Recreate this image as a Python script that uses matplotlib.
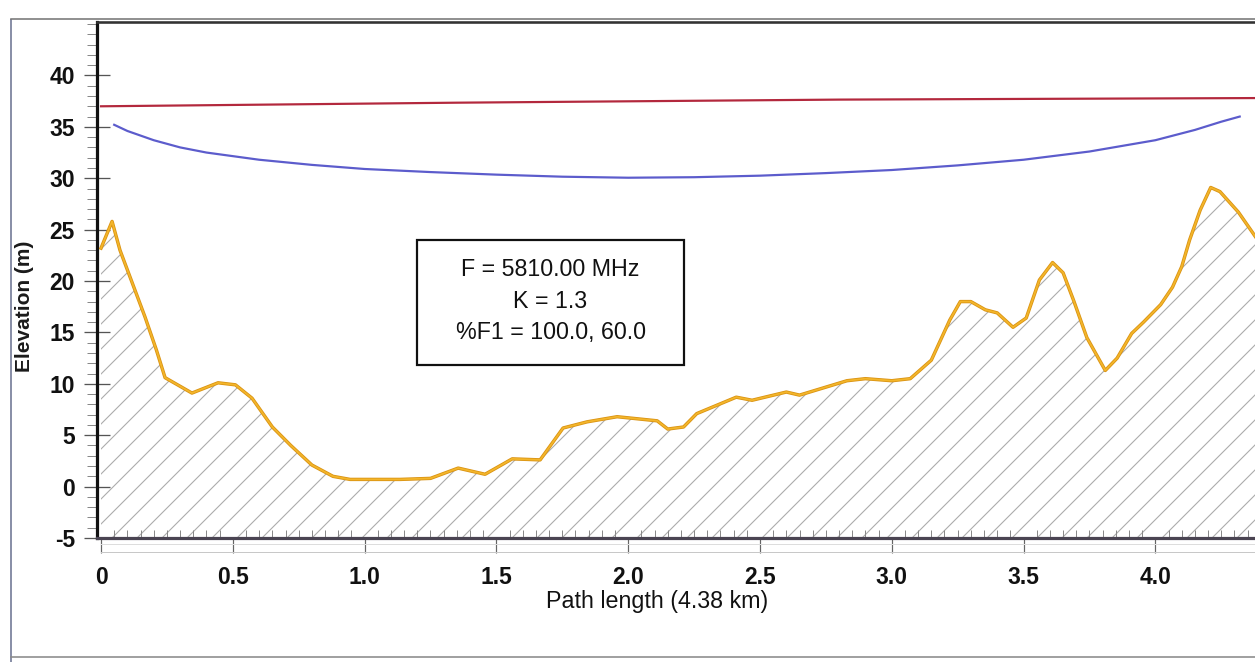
import matplotlib
matplotlib.use("Agg")
import matplotlib.pyplot as plt
from matplotlib.lines import Line2D
from matplotlib.patches import Rectangle
from matplotlib.ticker import MultipleLocator, FixedLocator

# ---------------- data ----------------
terrain_km = [0.00, 0.042, 0.072, 0.11, 0.167, 0.21, 0.243, 0.345, 0.444, 0.51,
              0.573, 0.65, 0.72, 0.80, 0.88, 0.945, 1.135, 1.25, 1.355, 1.457,
              1.56, 1.666, 1.753, 1.844, 1.958, 2.11, 2.15, 2.21, 2.26, 2.41,
              2.47, 2.60, 2.65, 2.83, 2.90, 3.00, 3.07, 3.15, 3.22, 3.26,
              3.30, 3.355, 3.40, 3.46, 3.51, 3.56, 3.61, 3.65, 3.69, 3.74,
              3.81, 3.855, 3.91, 3.955, 4.02, 4.065, 4.10, 4.13, 4.17, 4.21,
              4.245, 4.315, 4.38]
terrain_m = [23.2, 25.8, 23.0, 20.4, 16.5, 13.3, 10.6, 9.1, 10.1, 9.9,
             8.6, 5.8, 4.0, 2.1, 1.0, 0.7, 0.7, 0.8, 1.8, 1.2,
             2.7, 2.6, 5.7, 6.3, 6.8, 6.4, 5.6, 5.8, 7.1, 8.7,
             8.4, 9.2, 8.9, 10.3, 10.5, 10.3, 10.5, 12.3, 16.2, 18.0,
             18.0, 17.2, 16.9, 15.5, 16.4, 20.1, 21.8, 20.8, 18.1, 14.5,
             11.3, 12.5, 14.9, 16.0, 17.7, 19.4, 21.4, 24.0, 26.9, 29.1,
             28.7, 26.7, 24.3]

los_km = [0.0, 1.35, 2.8, 4.38]
los_m = [37.0, 37.35, 37.65, 37.8]

fresnel_km = [0.05, 0.1, 0.2, 0.3, 0.4, 0.6, 0.8, 1.0, 1.25, 1.5, 1.75, 2.0,
              2.25, 2.5, 2.75, 3.0, 3.25, 3.5, 3.75, 4.0, 4.15, 4.25, 4.32]
fresnel_m = [35.2, 34.6, 33.7, 33.0, 32.5, 31.8, 31.3, 30.9, 30.6, 30.35, 30.15, 30.05,
             30.1, 30.25, 30.5, 30.8, 31.25, 31.8, 32.6, 33.7, 34.7, 35.5, 36.0]

x_ticks = [0, 0.5, 1.0, 1.5, 2.0, 2.5, 3.0, 3.5, 4.0]
x_ticklabels = ["0", "0.5", "1.0", "1.5", "2.0", "2.5", "3.0", "3.5", "4.0"]
y_ticks = [-5, 0, 5, 10, 15, 20, 25, 30, 35, 40]

info_lines = ["F = 5810.00 MHz", "K = 1.3", "%F1 = 100.0, 60.0"]
x_label = "Path length (4.38 km)"
y_label = "Elevation (m)"

# ---------------- figure ----------------
DPI = 150
W, H = 1255, 662
PT = 72.0 / DPI  # points per pixel

plt.rcParams["font.family"] = ["Liberation Sans", "DejaVu Sans"]
plt.rcParams["hatch.color"] = "#acacac"
plt.rcParams["hatch.linewidth"] = 1.1 * PT

fig = plt.figure(figsize=(W / DPI, H / DPI), dpi=DPI)
fig.patch.set_facecolor("white")

ax_l, ax_r, ax_t, ax_b = 97, 1255, 22, 538
ax = fig.add_axes([ax_l / W, (H - ax_b) / H, (ax_r - ax_l) / W, (ax_b - ax_t) / H])
ax.set_facecolor("none")

ax.set_xlim(-0.0152, 4.378)
ax.set_ylim(-5, 45.2)

# terrain fill with hatch
ax.fill_between(terrain_km, -5, terrain_m, facecolor="none", edgecolor="#acacac",
                hatch="//", linewidth=0, zorder=1)
ax.plot(terrain_km, terrain_m, color="#d99212", lw=3.4 * PT, zorder=3,
        solid_joinstyle="round")
ax.plot(terrain_km, terrain_m, color="#f3b52a", lw=1.8 * PT, zorder=4,
        solid_joinstyle="round")

ax.plot(los_km, los_m, color="#b3283d", lw=2.2 * PT, zorder=3)
ax.plot(fresnel_km, fresnel_m, color="#5c5ccc", lw=2.2 * PT, zorder=3)

# spines
ax.spines["right"].set_visible(False)
ax.spines["left"].set_color("#111111")
ax.spines["left"].set_linewidth(3.2 * PT)
ax.spines["top"].set_color("#333333")
ax.spines["top"].set_linewidth(2.6 * PT)
ax.spines["bottom"].set_color("#4a4452")
ax.spines["bottom"].set_linewidth(3.2 * PT)

# ticks
ax.yaxis.set_major_locator(FixedLocator(y_ticks))
ax.yaxis.set_minor_locator(MultipleLocator(1))
ax.set_yticklabels([str(v) for v in y_ticks])
ax.xaxis.set_major_locator(FixedLocator(x_ticks))
ax.xaxis.set_minor_locator(MultipleLocator(0.05))
ax.set_xticklabels(x_ticklabels)

ax.tick_params(axis="y", which="major", direction="inout", length=26 * PT,
               width=1.3 * PT, color="#555555", pad=9 * PT,
               labelsize=11, labelcolor="#111111")
ax.tick_params(axis="y", which="minor", direction="out", length=10 * PT,
               width=1.0 * PT, color="#888888")
ax.tick_params(axis="x", which="major", direction="out", length=15 * PT,
               width=1.2 * PT, color="#666666", pad=13 * PT,
               labelsize=11, labelcolor="#111111")
ax.tick_params(axis="x", which="minor", direction="in", length=8 * PT,
               width=1.0 * PT, color="#8a8a8a")
for lab in ax.get_xticklabels() + ax.get_yticklabels():
    lab.set_fontweight("bold")

ax.set_xlabel(x_label, fontsize=11.2, color="#111111")
ax.xaxis.set_label_coords((657 - ax_l) / (ax_r - ax_l), -(590 - ax_b) / (ax_b - ax_t))
ax.set_ylabel(y_label, fontsize=10, fontweight="bold", color="#1a1a1a")
ax.yaxis.set_label_coords((34 - ax_l) / (ax_r - ax_l), (ax_b - 306) / (ax_b - ax_t))

# info box
bx0, bx1, by0, by1 = 417, 684, 240, 365
aw, ah = (ax_r - ax_l), (ax_b - ax_t)
ax.add_patch(Rectangle(((bx0 - ax_l) / aw, (ax_b - by1) / ah), (bx1 - bx0) / aw,
                       (by1 - by0) / ah, transform=ax.transAxes, facecolor="white",
                       edgecolor="#111111", lw=2.2 * PT, zorder=5))
ax.text(((bx0 + bx1) / 2 - ax_l) / aw, (ax_b - 301) / ah, "\n".join(info_lines),
        transform=ax.transAxes, ha="center", va="center", multialignment="center",
        fontsize=11.2, linespacing=1.5, color="#111111", zorder=6)

# decorative frame & ruler lines (figure pixel coords)
def fx(px):
    return px / W

def fy(py):
    return 1 - py / H

fig.add_artist(Line2D([fx(11), fx(11)], [fy(20), fy(662)], color="#8a90a8", lw=2.0 * PT))
fig.add_artist(Line2D([fx(11), fx(1255)], [fy(19), fy(19)], color="#777777", lw=1.6 * PT))
fig.add_artist(Line2D([fx(11), fx(1255)], [fy(657), fy(657)], color="#8a8a8a", lw=1.6 * PT))
fig.add_artist(Line2D([fx(101), fx(1255)], [fy(552), fy(552)], color="#c8c8c8", lw=1.0 * PT))
fig.add_artist(Line2D([fx(101), fx(1255)], [fy(544), fy(544)], color="#dddddd", lw=1.0 * PT))

fig.savefig("out.png", dpi=DPI, facecolor="white")
